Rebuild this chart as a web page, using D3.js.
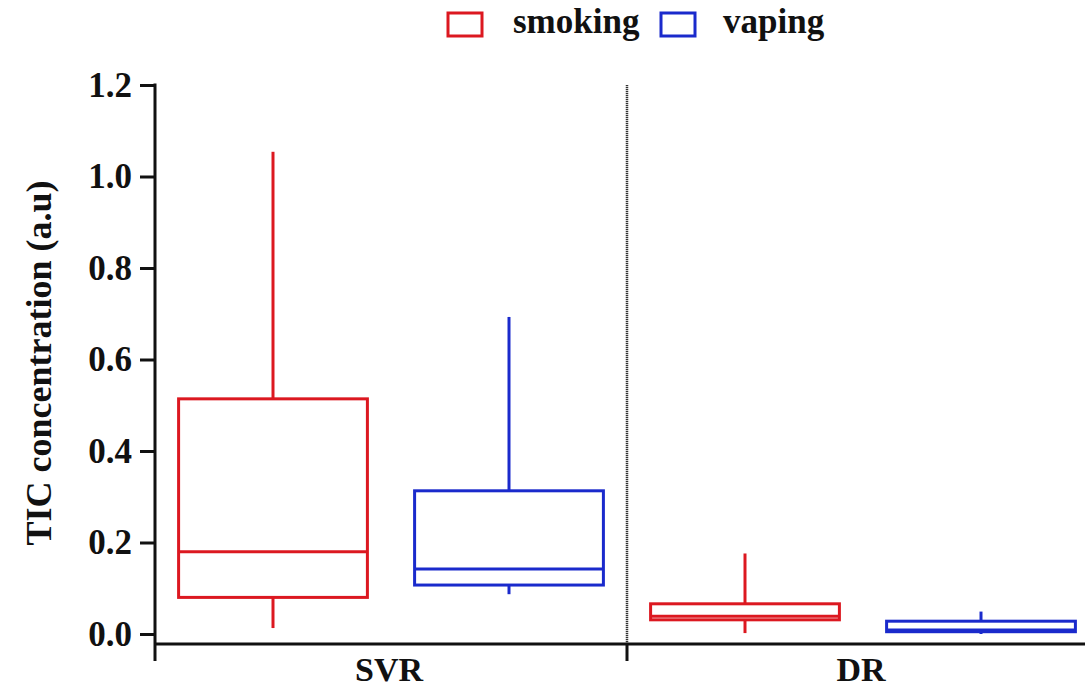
<!DOCTYPE html>
<html><head><meta charset="utf-8">
<script src="https://cdn.jsdelivr.net/npm/d3@7"></script>
<style>body{margin:0;background:#fff}svg{display:block}text{font-family:"Liberation Serif","Times New Roman",serif;font-weight:bold}</style>
</head><body><svg id="c" width="1085" height="689"></svg>
<script>
const categories = ["SVR", "DR"];
const series = ["smoking", "vaping"];
const colors = ["#dc1820", "#1a2acc"];
// [whiskerLow, Q1, median, Q3, whiskerHigh] per category
const smoking = [[0.013, 0.080, 0.180, 0.514, 1.054], [0.002, 0.031, 0.039, 0.066, 0.176]];
const vaping  = [[0.087, 0.107, 0.142, 0.313, 0.693], [0.000, 0.005, 0.009, 0.028, 0.049]];
const yTicks = [0, 0.2, 0.4, 0.6, 0.8, 1.0, 1.2];

const svg = d3.select("#c");
const y = d3.scaleLinear().domain([0, 1.2]).range([634, 85]);
const x = d3.scaleBand().domain(categories).range([155, 1099]);
const xs = d3.scaleBand().domain(series).range([0, x.bandwidth()]).paddingInner(0.2).paddingOuter(0.1);
const axisY = 644;

// divider
svg.append("line").attr("x1", x("DR")).attr("x2", x("DR")).attr("y1", y(1.2)).attr("y2", axisY)
  .attr("stroke", "#333").attr("stroke-width", 2.5).attr("stroke-dasharray", "1.2,0.8");

// y axis
const ya = svg.append("g").attr("transform", "translate(155,0)")
  .call(d3.axisLeft(y).tickValues(yTicks).tickFormat(d3.format(".1f")).tickSize(15).tickPadding(8).tickSizeOuter(0));
ya.select(".domain").remove();
ya.selectAll(".tick line").attr("stroke", "#111").attr("stroke-width", 3);
ya.selectAll(".tick text").attr("font-size", 35).attr("fill", "#111")
  .attr("font-family", "Liberation Serif, serif").attr("font-weight", "bold");
svg.append("line").attr("x1", 155).attr("x2", 155).attr("y1", y(1.2) - 1.5).attr("y2", axisY)
  .attr("stroke", "#111").attr("stroke-width", 3);

// x axis
svg.append("line").attr("x1", 155).attr("x2", 1085).attr("y1", axisY).attr("y2", axisY)
  .attr("stroke", "#111").attr("stroke-width", 3);
categories.forEach(c => {
  svg.append("line").attr("x1", x(c)).attr("x2", x(c)).attr("y1", axisY).attr("y2", axisY + 17)
    .attr("stroke", "#111").attr("stroke-width", 3);
  svg.append("text").attr("x", x(c) + x.bandwidth() / 2 - 2).attr("y", 681)
    .attr("text-anchor", "middle").attr("font-size", 34).attr("fill", "#111").text(c);
});

// boxes
[smoking, vaping].forEach((data, si) => {
  const col = colors[si];
  categories.forEach((c, ci) => {
    const [lo, q1, med, q3, hi] = data[ci];
    const x0 = x(c) + xs(series[si]);
    const w = xs.bandwidth();
    const cx = x0 + w / 2;
    const g = svg.append("g").attr("stroke", col).attr("stroke-width", 3).attr("fill", "none");
    g.append("line").attr("x1", cx).attr("x2", cx).attr("y1", y(q3)).attr("y2", y(hi));
    g.append("line").attr("x1", cx).attr("x2", cx).attr("y1", y(q1)).attr("y2", y(lo));
    g.append("rect").attr("x", x0).attr("y", y(q3)).attr("width", w).attr("height", y(q1) - y(q3));
    g.append("line").attr("x1", x0).attr("x2", x0 + w).attr("y1", y(med)).attr("y2", y(med));
  });
});

// legend
const leg = [{x: 448, tx: 513}, {x: 661, tx: 723}];
series.forEach((s, i) => {
  svg.append("rect").attr("x", leg[i].x).attr("y", 13).attr("width", 34).attr("height", 23)
    .attr("fill", "none").attr("stroke", colors[i]).attr("stroke-width", 3);
  svg.append("text").attr("x", leg[i].tx).attr("y", 33).attr("font-size", 35).attr("fill", "#111").text(s);
});

// y label
svg.append("text").attr("transform", "translate(51,363) rotate(-90)").attr("text-anchor", "middle")
  .attr("font-size", 36).attr("fill", "#111").text("TIC concentration (a.u)");
</script></body></html>
